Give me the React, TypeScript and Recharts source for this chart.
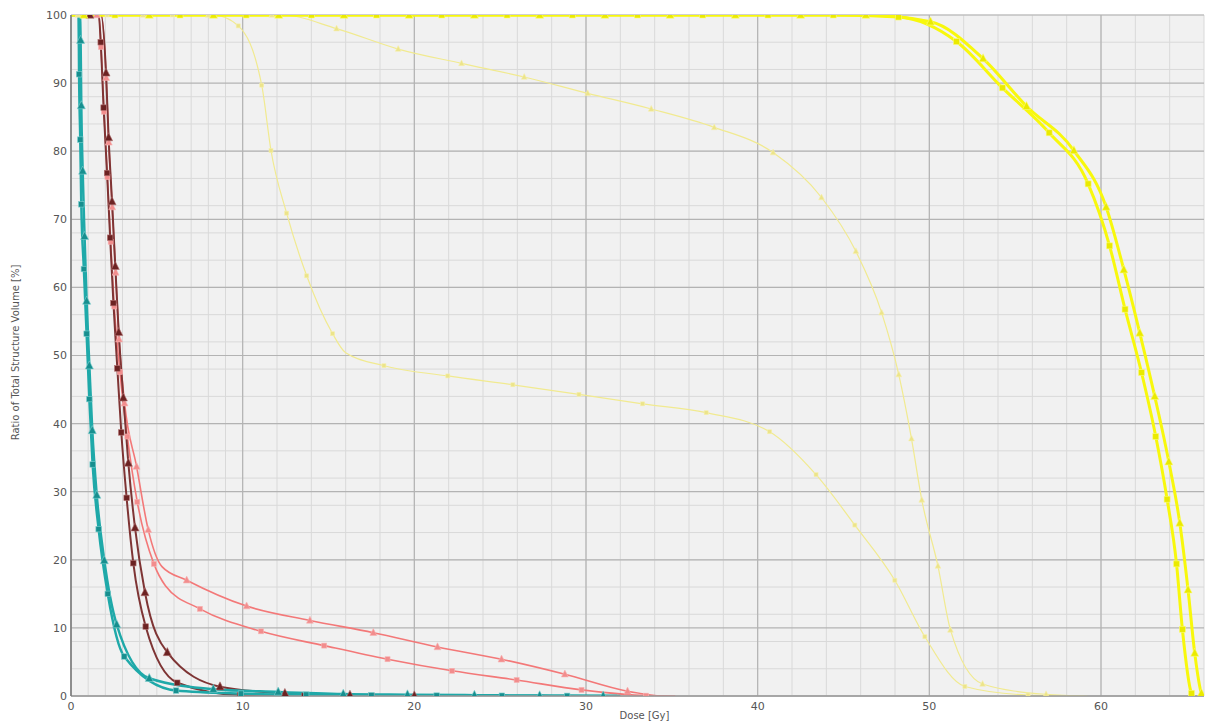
import React from 'react';
import { LineChart, Line, XAxis, YAxis, CartesianGrid } from 'recharts';

type P = [number, number];

const xTicks = [0, 10, 20, 30, 40, 50, 60];
const yTicks = [0, 10, 20, 30, 40, 50, 60, 70, 80, 90, 100];
const xMinor = Array.from({ length: 67 }, (_, i) => i);
const yMinor = Array.from({ length: 101 }, (_, i) => i);

// Teal (squares)
const tealSqMarks: P[] = [[0.47, 91.3], [0.54, 81.7], [0.6, 72.2], [0.75, 62.7], [0.91, 53.2], [1.07, 43.6], [1.26, 34.0], [1.61, 24.5], [2.14, 15.0], [3.1, 5.8], [6.12, 0.8], [9.9, 0.35], [13.7, 0.2], [17.5, 0.1], [21.3, 0.06], [25.1, 0.04], [28.9, 0.02]];
const tealSqEnds: P[] = [[0, 100], [0.44, 100], [31.8, 0]];
// Teal (triangles)
const tealTrMarks: P[] = [[0.56, 96.3], [0.6, 86.7], [0.68, 77.1], [0.79, 67.5], [0.91, 58.0], [1.07, 48.5], [1.24, 39.0], [1.5, 29.5], [1.94, 19.9], [2.66, 10.5], [4.56, 2.6], [8.29, 1.0], [12.07, 0.6], [15.86, 0.3], [19.6, 0.2], [23.5, 0.12], [27.3, 0.06], [31.0, 0.03]];
const tealTrEnds: P[] = [[0, 100], [0.52, 100], [32, 0]];
// Maroon (squares)
const maroonSqMarks: P[] = [[1.73, 96.0], [1.9, 86.4], [2.1, 76.8], [2.28, 67.3], [2.47, 57.7], [2.7, 48.1], [2.93, 38.7], [3.24, 29.1], [3.63, 19.5], [4.35, 10.2], [6.19, 1.95], [9.84, 0.15], [13.6, 0.05], [17.5, 0.02]];
const maroonSqEnds: P[] = [[0, 100], [1.62, 100], [20, 0]];
// Maroon (triangles)
const maroonTrMarks: P[] = [[1.1, 100], [2.04, 91.5], [2.19, 82.0], [2.39, 72.6], [2.58, 63.1], [2.78, 53.4], [3.05, 43.8], [3.34, 34.2], [3.73, 24.7], [4.31, 15.2], [5.61, 6.4], [8.68, 1.37], [12.46, 0.4], [16.25, 0.15], [20.0, 0.05]];
const maroonTrEnds: P[] = [[0, 100], [1.75, 100], [21, 0]];
// Salmon (squares)
const salmonSqMarks: P[] = [[1.75, 95.3], [1.92, 85.8], [2.12, 76.2], [2.31, 66.7], [2.52, 57.2], [2.85, 47.6], [3.28, 38.1], [3.86, 28.5], [4.83, 19.4], [7.51, 12.8], [11.07, 9.5], [14.75, 7.4], [18.44, 5.4], [22.2, 3.7], [25.96, 2.35], [29.74, 0.9], [33.5, 0.05]];
const salmonSqEnds: P[] = [[0, 100], [1.62, 100], [5.5, 16.2], [35.2, 0]];
// Salmon (triangles)
const salmonTrMarks: P[] = [[1.5, 100], [2.05, 90.8], [2.2, 81.3], [2.4, 71.8], [2.6, 62.2], [2.8, 52.4], [3.12, 43.0], [3.82, 33.7], [4.5, 24.4], [6.74, 17.0], [10.23, 13.2], [13.92, 11.1], [17.61, 9.3], [21.35, 7.2], [25.08, 5.4], [28.77, 3.2], [32.42, 0.7]];
const salmonTrEnds: P[] = [[0, 100], [1.76, 100], [5.3, 19.0], [34.2, 0]];
// Pale yellow (squares)
const paleSqMarks: P[] = [[2.1, 100], [5.9, 100], [9.74, 98.4], [11.11, 89.7], [11.65, 80.1], [12.56, 70.9], [13.73, 61.7], [15.24, 53.2], [18.23, 48.5], [21.95, 47.0], [25.74, 45.7], [29.59, 44.3], [33.3, 42.9], [37.0, 41.6], [40.7, 38.8], [43.4, 32.5], [45.66, 25.1], [47.99, 17.0], [49.74, 8.7], [52.07, 1.4], [55.75, 0.15]];
const paleSqEnds: P[] = [[0, 100], [8.3, 100], [16.0, 50.4], [59.0, 0]];
// Pale yellow (triangles)
const paleTrMarks: P[] = [[0.4, 100], [4.2, 100], [8.0, 100], [11.7, 100], [15.47, 98.0], [19.06, 95.0], [22.75, 92.9], [26.4, 90.9], [30.1, 88.5], [33.8, 86.2], [37.47, 83.5], [40.9, 79.8], [43.72, 73.2], [45.72, 65.3], [47.22, 56.3], [48.22, 47.2], [48.96, 37.8], [49.56, 28.8], [50.5, 19.1], [51.23, 9.7], [53.1, 1.76], [56.8, 0.25]];
const paleTrEnds: P[] = [[0, 100], [12.3, 100], [59.2, 0]];
// Bright yellow (squares)
const yellowSqMarks: P[] = [[2.56, 100], [6.35, 100], [10.2, 100], [14.0, 100], [17.8, 100], [21.6, 100], [25.4, 100], [29.2, 100], [33.0, 100], [36.8, 100], [40.6, 100], [44.4, 100], [48.2, 99.7], [51.58, 96.1], [54.26, 89.3], [56.98, 82.7], [59.25, 75.2], [60.5, 66.1], [61.4, 56.8], [62.36, 47.5], [63.19, 38.1], [63.85, 28.9], [64.4, 19.4], [64.74, 9.8], [65.27, 0.4]];
const yellowSqEnds: P[] = [[0, 100], [65.4, 0]];
// Bright yellow (triangles)
const yellowTrMarks: P[] = [[0.75, 100], [4.56, 100], [8.3, 100], [12.1, 100], [15.9, 100], [19.7, 100], [23.5, 100], [27.3, 100], [31.1, 100], [34.9, 100], [38.7, 100], [42.5, 100], [46.3, 100], [50.07, 99.0], [53.13, 93.6], [55.66, 86.6], [58.42, 80.1], [60.3, 71.8], [61.33, 62.6], [62.26, 53.3], [63.13, 44.0], [63.95, 34.4], [64.59, 25.4], [65.07, 15.6], [65.46, 6.3], [65.85, 0.4]];
const yellowTrEnds: P[] = [[0, 100], [65.95, 0]];

type Pt = { x: number; y: number; m: boolean };
function build(marks: P[], ends: P[]): Pt[] {
  return [
    ...marks.map(([x, y]) => ({ x, y, m: true })),
    ...ends.map(([x, y]) => ({ x, y, m: false })),
  ].sort((a, b) => a.x - b.x);
}

type Shape = 'square' | 'triangle';
const makeDot = (shape: Shape, size: number, fill: string, stroke: string) => (props: any) => {
  const { cx, cy, payload, index } = props;
  const k = `d-${index}`;
  if (!payload || !payload.m || cx == null || cy == null) return <g key={k} />;
  if (shape === 'square') {
    return <rect key={k} x={cx - size / 2} y={cy - size / 2} width={size} height={size} fill={fill} stroke={stroke} strokeWidth={0.6} />;
  }
  const s = size * 1.15;
  return (
    <polygon
      key={k}
      points={`${cx},${cy - s * 0.6} ${cx - s / 2},${cy + s * 0.4} ${cx + s / 2},${cy + s * 0.4}`}
      fill={fill}
      stroke={stroke}
      strokeWidth={0.6}
    />
  );
};

const series = [
  { id: 'paleSq', data: build(paleSqMarks, paleSqEnds), color: '#f1ea90', w: 1.2, shape: 'square' as Shape, size: 4, fill: '#ece48a', stroke: '#f6f0b0' },
  { id: 'paleTr', data: build(paleTrMarks, paleTrEnds), color: '#f1ea90', w: 1.2, shape: 'triangle' as Shape, size: 5, fill: '#ece48a', stroke: '#f6f0b0' },
  { id: 'salmonSq', data: build(salmonSqMarks, salmonSqEnds), color: '#f37878', w: 1.6, shape: 'square' as Shape, size: 5, fill: '#f28d8d', stroke: '#f7b5b5' },
  { id: 'salmonTr', data: build(salmonTrMarks, salmonTrEnds), color: '#f37878', w: 1.6, shape: 'triangle' as Shape, size: 6, fill: '#f28d8d', stroke: '#f7b5b5' },
  { id: 'maroonSq', data: build(maroonSqMarks, maroonSqEnds), color: '#7e3434', w: 2, shape: 'square' as Shape, size: 5.5, fill: '#6c2222', stroke: '#b07070' },
  { id: 'maroonTr', data: build(maroonTrMarks, maroonTrEnds), color: '#7e3434', w: 2, shape: 'triangle' as Shape, size: 7, fill: '#6c2222', stroke: '#b07070' },
  { id: 'tealSq', data: build(tealSqMarks, tealSqEnds), color: '#1fa9a9', w: 2.5, shape: 'square' as Shape, size: 5.5, fill: '#178f8f', stroke: '#7fd0d0' },
  { id: 'tealTr', data: build(tealTrMarks, tealTrEnds), color: '#1fa9a9', w: 2.5, shape: 'triangle' as Shape, size: 7, fill: '#178f8f', stroke: '#7fd0d0' },
  { id: 'yellowSq', data: build(yellowSqMarks, yellowSqEnds), color: '#f8f80c', w: 3, shape: 'square' as Shape, size: 6, fill: '#eaea00', stroke: '#fbfb80' },
  { id: 'yellowTr', data: build(yellowTrMarks, yellowTrEnds), color: '#f8f80c', w: 3, shape: 'triangle' as Shape, size: 7, fill: '#eaea00', stroke: '#fbfb80' },
];

const font = '"DejaVu Sans", Verdana, sans-serif';

export default function App() {
  return (
    <div style={{ position: 'absolute', left: 0, top: 0, width: 1211, height: 722, background: '#ffffff' }}>
      <LineChart width={1211} height={722} margin={{ top: 15, right: 7, bottom: 0, left: 0 }}>
        <CartesianGrid
          fill="#f1f1f1"
          stroke="#d9d9d9"
          strokeWidth={1}
          horizontalValues={yMinor}
          verticalValues={xMinor}
        />
        <CartesianGrid
          stroke="#b3b3b3"
          strokeWidth={1.2}
          horizontalValues={yTicks}
          verticalValues={xTicks}
        />
        <XAxis
          type="number"
          dataKey="x"
          domain={[0, 66]}
          ticks={xTicks}
          allowDataOverflow
          height={26}
          tickSize={2}
          tickMargin={4}
          tickLine={false}
          axisLine={{ stroke: '#9a9a9a', strokeWidth: 1.5 }}
          tick={{ fill: '#555', fontSize: 11, fontFamily: font }}
          label={(p: any) => {
            const vb = p.viewBox || {};
            return (
              <text x={(vb.x || 0) + (vb.width || 0) / 2 + 7} y={719} textAnchor="middle" fill="#555" fontSize={10} fontFamily={font}>
                Dose [Gy]
              </text>
            );
          }}
        />
        <YAxis
          type="number"
          dataKey="y"
          domain={[0, 100]}
          ticks={yTicks}
          allowDataOverflow
          width={71}
          tickSize={2}
          tickMargin={2}
          tickLine={false}
          axisLine={{ stroke: '#7a7a7a', strokeWidth: 1.5 }}
          tick={{ fill: '#555', fontSize: 11, fontFamily: font }}
          label={(p: any) => {
            const vb = p.viewBox || {};
            const cy = (vb.y || 0) + (vb.height || 0) / 2 - 3;
            return (
              <text x={15} y={cy} transform={`rotate(-90, 15, ${cy})`} textAnchor="middle" dominantBaseline="central" fill="#555" fontSize={10} fontFamily={font}>
                Ratio of Total Structure Volume [%]
              </text>
            );
          }}
        />
        {series.map((s) => (
          <Line
            key={s.id}
            data={s.data}
            dataKey="y"
            type="monotone"
            stroke={s.color}
            strokeWidth={s.w}
            dot={makeDot(s.shape, s.size, s.fill, s.stroke)}
            activeDot={false}
            isAnimationActive={false}
          />
        ))}
      </LineChart>
    </div>
  );
}
